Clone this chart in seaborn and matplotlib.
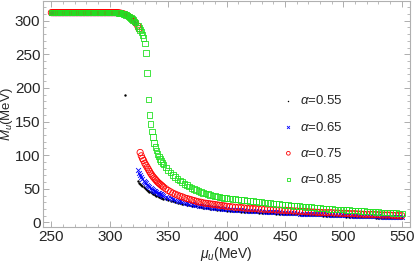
import numpy as np
import pandas as pd
import matplotlib
matplotlib.use("Agg")
import matplotlib.pyplot as plt
import seaborn as sns
from matplotlib.ticker import MultipleLocator

# ── Data (MeV) ─────────────────────────────────────────────────
# upper (plateau) branch, shared by every alpha
mu_plateau = [250, 251, 252, 253, 254, 255, 256, 257, 258, 259,
              260, 261, 262, 263, 264, 265, 266, 267, 268, 269,
              270, 271, 272, 273, 274, 275, 276, 277, 278, 279,
              280, 281, 282, 283, 284, 285, 286, 287, 288, 289,
              290, 291, 292, 293, 294, 295, 296, 297, 298, 299,
              300, 301, 302, 303, 304, 305, 306, 307, 308, 309,
              310, 311, 312, 313, 314, 315, 316, 317, 318, 319,
              320, 321, 322]
m_plateau = [312, 312, 312, 312, 312, 312, 312, 312, 312, 312,
             312, 312, 312, 312, 312, 312, 312, 312, 312, 312,
             312, 312, 312, 312, 312, 312, 312, 312, 312, 312,
             312, 312, 312, 312, 312, 312, 312, 312, 312, 312,
             312, 312, 312, 312, 312, 312, 312, 312, 312, 312,
             312, 312, 312, 312, 312, 312, 312, 312, 311.5, 311.2,
             311, 310.5, 310, 309.3, 308.5, 307.5, 306.5, 305.3, 304, 302.5,
             301, 299, 297]

# lower branch grid
mu_tail = [324, 325, 326, 327, 328, 329, 330, 331, 332, 333,
           334, 335, 336, 337, 338, 339, 340, 341, 342, 343,
           344, 345, 346,
           348, 350, 352, 354, 356, 358, 360, 362, 364, 366,
           368, 370, 372, 374, 376, 378, 380, 382, 384, 386,
           388, 390, 392, 394, 396, 398, 400,
           402.5, 405, 407.5, 410, 412.5, 415, 417.5, 420, 422.5, 425,
           427.5, 430, 432.5, 435, 437.5, 440, 442.5, 445, 447.5, 450,
           452.5, 455, 457.5, 460, 462.5, 465, 467.5, 470, 472.5, 475,
           477.5, 480, 482.5, 485, 487.5, 490, 492.5, 495, 497.5, 500,
           502.5, 505, 507.5, 510, 512.5, 515, 517.5, 520, 522.5, 525,
           527.5, 530, 532.5, 535, 537.5, 540, 542.5, 545, 547.5, 550]

m_tail_055 = [61, 59, 57.5, 56, 54, 52, 51, 49.5, 48, 47,
              45.5, 44.5, 43.5, 42.5, 41.5, 40.5, 40, 39, 38.5, 37.5,
              37, 36, 35.5,
              34.5, 33.5, 32.5, 31.5, 30.5, 29.5, 28.5, 28, 27, 26.5,
              25.5, 25, 24.5, 24, 23, 22.5, 22, 21.5, 21, 20.5,
              20, 19.5, 19, 19, 18.5, 18, 17.5,
              17, 17, 16.5, 16.5, 16, 16, 15.5, 15.5, 15, 15,
              14.5, 14.5, 14, 14, 13.5, 13.5, 13, 13, 12.5, 12.5,
              12, 12, 12, 12, 11.5, 11.5, 11, 11, 10.5, 10.5,
              10.5, 10.5, 10, 10, 9.5, 9.5, 9.5, 9.5, 9, 9,
              8.5, 8.5, 8.5, 8.5, 8, 8, 7.5, 7.5, 7.5, 7.5,
              7, 7, 6.5, 6.5, 6.5, 6.5, 6, 6, 6, 6]
m_tail_065 = [78, 74, 70, 67, 64, 62, 60, 58, 56, 54,
              52.5, 51, 49.5, 48, 47, 46, 45, 44, 43, 42.5,
              41.5, 40.5, 40,
              38.5, 37, 36, 34.5, 33.5, 32.5, 31.5, 30.5, 29.5, 28.5,
              28, 27, 26.5, 26, 25, 24.5, 24, 23.5, 23, 22.5,
              22, 21.5, 21, 21, 20.5, 20, 20,
              19.5, 19, 19, 18.5, 18, 18, 17.5, 17.5, 17, 17,
              16.5, 16.5, 16, 16, 15.5, 15.5, 15, 15, 14.5, 14.5,
              14, 14, 13.5, 13.5, 13, 13, 13, 13, 12.5, 12.5,
              12, 12, 12, 12, 11.5, 11.5, 11, 11, 11, 11,
              10.5, 10.5, 10, 10, 10, 10, 9.5, 9.5, 9, 9,
              9, 9, 8.5, 8.5, 8, 8, 8, 8, 7.5, 7.5]
m_tail_075 = [292, 288, 104, 99, 95, 92, 88, 85, 82, 79,
              76, 73, 70.5, 68, 66, 64, 62, 60, 58.5, 57,
              55.5, 54, 52.5,
              50, 47.5, 45.5, 43.5, 42, 40.5, 39, 38, 36.5, 35.5,
              34.5, 33.5, 32.5, 31.5, 30.5, 30, 29, 28.5, 28, 27.5,
              27, 26.5, 26, 25.5, 25, 24.5, 24,
              23.5, 23, 22.5, 22.5, 22, 21.5, 21, 21, 20.5, 20.5,
              20, 20, 19.5, 19.5, 19, 19, 18.5, 18.5, 18, 18,
              17.5, 17.5, 17, 17, 16.5, 16.5, 16, 16, 15.5, 15.5,
              15, 15, 14.5, 14.5, 14.5, 14.5, 14, 14, 13.5, 13.5,
              13.5, 13, 13, 13, 12.5, 12.5, 12, 12, 12, 12,
              11.5, 11.5, 11, 11, 11, 11, 10.5, 10.5, 10, 10]
m_tail_085 = [292, 289, 286, 283, 279, 274, 266, 252, 222, 183,
              160, 146, 135, 127, 118, 112, 107, 102, 98, 94.5,
              91, 88.5, 86,
              81.5, 77.5, 74, 70.5, 67.5, 64.5, 62, 60, 57.5, 55.5,
              53.5, 51.5, 50, 48.5, 47, 45.5, 44, 43, 42, 41,
              40, 39, 38.5, 37.5, 37, 36.5, 36,
              35.5, 35, 34.5, 34, 33.5, 33, 32.5, 32, 31.5, 31,
              30.5, 30, 29.5, 29, 28.5, 28, 27.5, 27, 26.5, 26,
              25.5, 25, 24.5, 24.5, 24, 23.5, 23, 23, 22.5, 22,
              21.5, 21.5, 21, 20.5, 20, 20, 19.5, 19.5, 19, 19,
              18.5, 18.5, 18, 17.5, 17.5, 17, 17, 16.5, 16, 16,
              15.5, 15.5, 15, 15, 14.5, 14.5, 14, 14, 13.5, 13.5]

# single stray point of the alpha=0.55 set
mu_stray = [313]
m_stray = [190]

alphas = ["0.55", "0.65", "0.75", "0.85"]
tails = [m_tail_055, m_tail_065, m_tail_075, m_tail_085]

# ── Long table ────────────────────────────────────────────────
frames = []
for a, tail in zip(alphas, tails):
    mu = mu_plateau + mu_tail
    m = m_plateau + tail
    if a == "0.55":
        mu = mu + mu_stray
        m = m + m_stray
    frames.append(pd.DataFrame({"mu": mu, "M": m, "alpha": a}))
df = pd.concat(frames, ignore_index=True)

# ── Style ─────────────────────────────────────────────────────
sns.set_style("ticks")
plt.rcParams["font.family"] = ["Liberation Sans", "DejaVu Sans"]
plt.rcParams["mathtext.fontset"] = "custom"
plt.rcParams["mathtext.rm"] = "Liberation Sans"
plt.rcParams["mathtext.it"] = "Liberation Sans:italic"

marker_kw = {
    "0.55": dict(marker="o", s=3, color="black", linewidth=0),
    "0.65": dict(marker="x", s=12, color="blue", linewidth=0.6),
    "0.75": dict(marker="o", s=20, facecolor="none", edgecolor="red",
                 linewidth=0.6),
    "0.85": dict(marker="s", s=16, facecolor="none", edgecolor="#22e022",
                 linewidth=0.6),
}

fig, ax = plt.subplots(figsize=(4.15, 2.65), dpi=100)
fig.subplots_adjust(left=0.104, right=0.988, bottom=0.143, top=0.998)

for a in alphas:
    sub = df[df["alpha"] == a]
    sns.scatterplot(data=sub, x="mu", y="M", ax=ax,
                    label=rf"$\alpha$={a}", **marker_kw[a])

ax.set_xlim(243, 557)
ax.set_ylim(-7, 330)
ax.xaxis.set_major_locator(MultipleLocator(50))
ax.xaxis.set_minor_locator(MultipleLocator(10))
ax.yaxis.set_major_locator(MultipleLocator(50))
ax.yaxis.set_minor_locator(MultipleLocator(10))
ax.tick_params(which="both", direction="in", top=True, right=True,
               color="#a0a0a0", labelsize=11, pad=2)
ax.tick_params(which="major", length=4, width=0.6)
ax.tick_params(which="minor", length=2, width=0.5)
for sp in ax.spines.values():
    sp.set_color("#b0b0b0")
    sp.set_linewidth(0.8)

ax.set_xlabel(r"$\mu_u$(MeV)", fontsize=10, labelpad=1)
ax.set_ylabel(r"$M_u$(MeV)", fontsize=9.5)
ax.yaxis.set_label_coords(-0.077, 0.5)

ax.legend(loc="upper left", bbox_to_anchor=(0.636, 0.615), frameon=False,
          fontsize=9.5, handlelength=0.8, handletextpad=0.5,
          labelspacing=1.0, borderpad=0, markerscale=0.6)

fig.savefig("out.png", dpi=100)
plt.close()
